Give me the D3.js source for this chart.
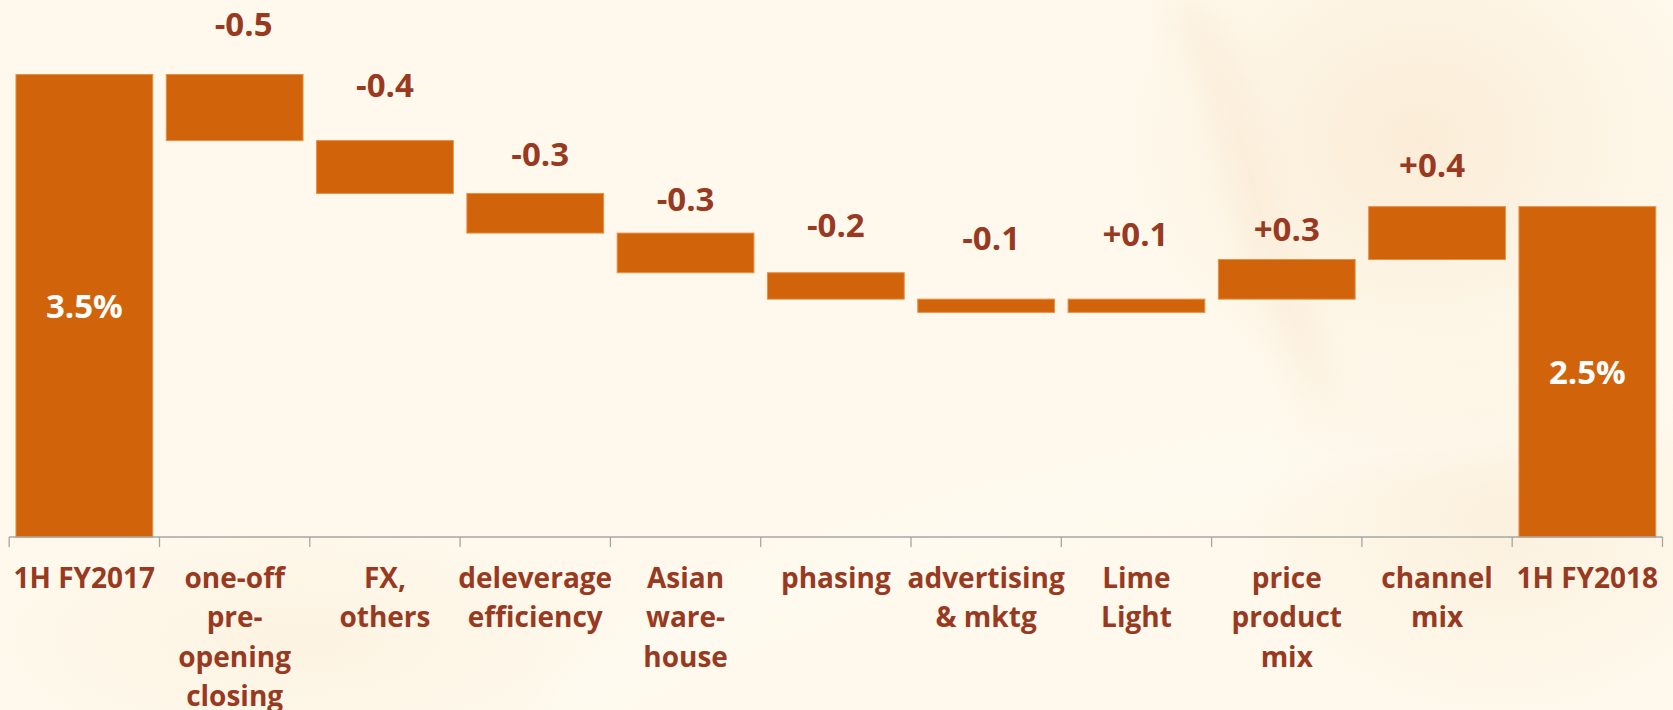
<!DOCTYPE html>
<html>
<head>
<meta charset="utf-8">
<script src="https://cdn.jsdelivr.net/npm/d3@7"></script>
<style>
  html, body { margin: 0; padding: 0; background: #fef9ec; }
  svg { display: block; }
  text { font-family: "Open Sans", "Lato", sans-serif; font-weight: 700; }
</style>
</head>
<body>
<svg id="chart" width="1673" height="710"></svg>
<script>
// EBIT margin bridge, 1H FY2017 -> 1H FY2018
const categories = [
  "1H FY2017",
  "one-off\npre-\nopening\nclosing",
  "FX,\nothers",
  "deleverage\nefficiency",
  "Asian\nware-\nhouse",
  "phasing",
  "advertising\n& mktg",
  "Lime\nLight",
  "price\nproduct\nmix",
  "channel\nmix",
  "1H FY2018"
];
const startValue = 3.5;
const deltas = [-0.5, -0.4, -0.3, -0.3, -0.2, -0.1, 0.1, 0.3, 0.4];
const endValue = 2.5;

// hand-placed nudges for the step labels: [dx, lift above bar top] in px
const labelNudge = [[9, 39], [0, 44], [5, 27], [0, 22], [0, 36], [5, 49], [-1, 53], [0, 19], [-5, 30]];

const W = 1673, H = 710;
const svg = d3.select("#chart");

// soft slide background
const defs = svg.append("defs");
const g1 = defs.append("radialGradient").attr("id", "warm1")
  .attr("cx", "0.5").attr("cy", "0.5").attr("r", "0.5");
g1.append("stop").attr("offset", "0%").attr("stop-color", "#f8e2c6").attr("stop-opacity", 0.55);
g1.append("stop").attr("offset", "100%").attr("stop-color", "#f8e2c6").attr("stop-opacity", 0);
const blur = defs.append("filter").attr("id", "soft").attr("x", "-50%").attr("y", "-50%").attr("width", "200%").attr("height", "200%");
blur.append("feGaussianBlur").attr("stdDeviation", 18);

svg.append("rect").attr("width", W).attr("height", H).attr("fill", "#fef9ec");
svg.append("ellipse").attr("cx", 1420).attr("cy", 140).attr("rx", 300).attr("ry", 260).attr("fill", "url(#warm1)");
svg.append("ellipse").attr("cx", 1500).attr("cy", 520).attr("rx", 260).attr("ry", 200).attr("fill", "url(#warm1)").attr("opacity", 0.7);
svg.append("ellipse").attr("cx", 300).attr("cy", 640).attr("rx", 320).attr("ry", 120).attr("fill", "url(#warm1)").attr("opacity", 0.5);
svg.append("path")
  .attr("d", "M 560 700 C 800 560, 1100 470, 1673 420")
  .attr("fill", "none").attr("stroke", "#ffffff").attr("stroke-width", 26)
  .attr("opacity", 0.35).attr("filter", "url(#soft)");
svg.append("path")
  .attr("d", "M 1180 0 C 1260 120, 1250 260, 1330 400")
  .attr("fill", "none").attr("stroke", "#f6dcc0").attr("stroke-width", 30)
  .attr("opacity", 0.35).attr("filter", "url(#soft)");

// waterfall segments
const bars = [];
bars.push({ cat: categories[0], y0: 0, y1: startValue, total: true, value: startValue });
let running = startValue;
deltas.forEach((d, i) => {
  const from = running, to = running + d;
  bars.push({ cat: categories[i + 1], y0: Math.min(from, to), y1: Math.max(from, to), total: false, value: d, idx: i });
  running = to;
});
bars.push({ cat: categories[categories.length - 1], y0: 0, y1: endValue, total: true, value: endValue });

const x = d3.scaleBand().domain(categories).range([9.2, 1662.5]).paddingInner(0.09).paddingOuter(0.045);
const y = d3.scaleLinear().domain([0, 3.5]).range([537, 74.5]);

const BAR = "#d1630a", BAR_EDGE = "#e98f45", TXT = "#983a22";

svg.append("g").selectAll("rect").data(bars).join("rect")
  .attr("x", d => x(d.cat))
  .attr("width", x.bandwidth())
  .attr("y", d => y(d.y1))
  .attr("height", d => y(d.y0) - y(d.y1))
  .attr("fill", BAR)
  .attr("stroke", BAR_EDGE)
  .attr("stroke-width", 1);

// category axis with ticks at band boundaries
const step = x.step();
const left = x.range()[0];
const axisY = y(0);
const axisG = svg.append("g");
axisG.append("line")
  .attr("x1", left).attr("x2", left + step * categories.length)
  .attr("y1", axisY).attr("y2", axisY)
  .attr("stroke", "#a6a6a6").attr("stroke-width", 1.3);
axisG.selectAll("line.tick").data(d3.range(categories.length + 1)).join("line")
  .attr("class", "tick")
  .attr("x1", i => left + i * step).attr("x2", i => left + i * step)
  .attr("y1", axisY).attr("y2", axisY + 10)
  .attr("stroke", "#a6a6a6").attr("stroke-width", 1.3);

// category labels
const catText = svg.append("g").selectAll("text").data(categories).join("text")
  .attr("text-anchor", "middle")
  .attr("font-size", 28)
  .attr("fill", TXT)
  .attr("x", d => x(d) + x.bandwidth() / 2)
  .attr("y", axisY + 51);
catText.each(function (d) {
  const t = d3.select(this);
  d.split("\n").forEach((line, i) => {
    t.append("tspan")
      .attr("x", x(d) + x.bandwidth() / 2)
      .attr("dy", i === 0 ? 0 : 39.4)
      .text(line);
  });
});

// step value labels
const fmt = d3.formatLocale({ decimal: ".", thousands: ",", grouping: [3], currency: ["", ""], minus: "-" }).format("+.1f");
svg.append("g").selectAll("text").data(bars.filter(b => !b.total)).join("text")
  .attr("text-anchor", "middle")
  .attr("font-size", 33)
  .attr("fill", TXT)
  .attr("x", d => x(d.cat) + x.bandwidth() / 2 + labelNudge[d.idx][0])
  .attr("y", d => y(d.y1) - labelNudge[d.idx][1])
  .text(d => fmt(d.value));

// total labels inside the end bars
const pct = d3.format(".1f");
svg.append("g").selectAll("text").data(bars.filter(b => b.total)).join("text")
  .attr("text-anchor", "middle")
  .attr("font-size", 33)
  .attr("fill", "#ffffff")
  .attr("x", d => x(d.cat) + x.bandwidth() / 2)
  .attr("y", d => (y(d.y0) + y(d.y1)) / 2 + 12)
  .text(d => pct(d.value) + "%");
</script>
</body>
</html>
